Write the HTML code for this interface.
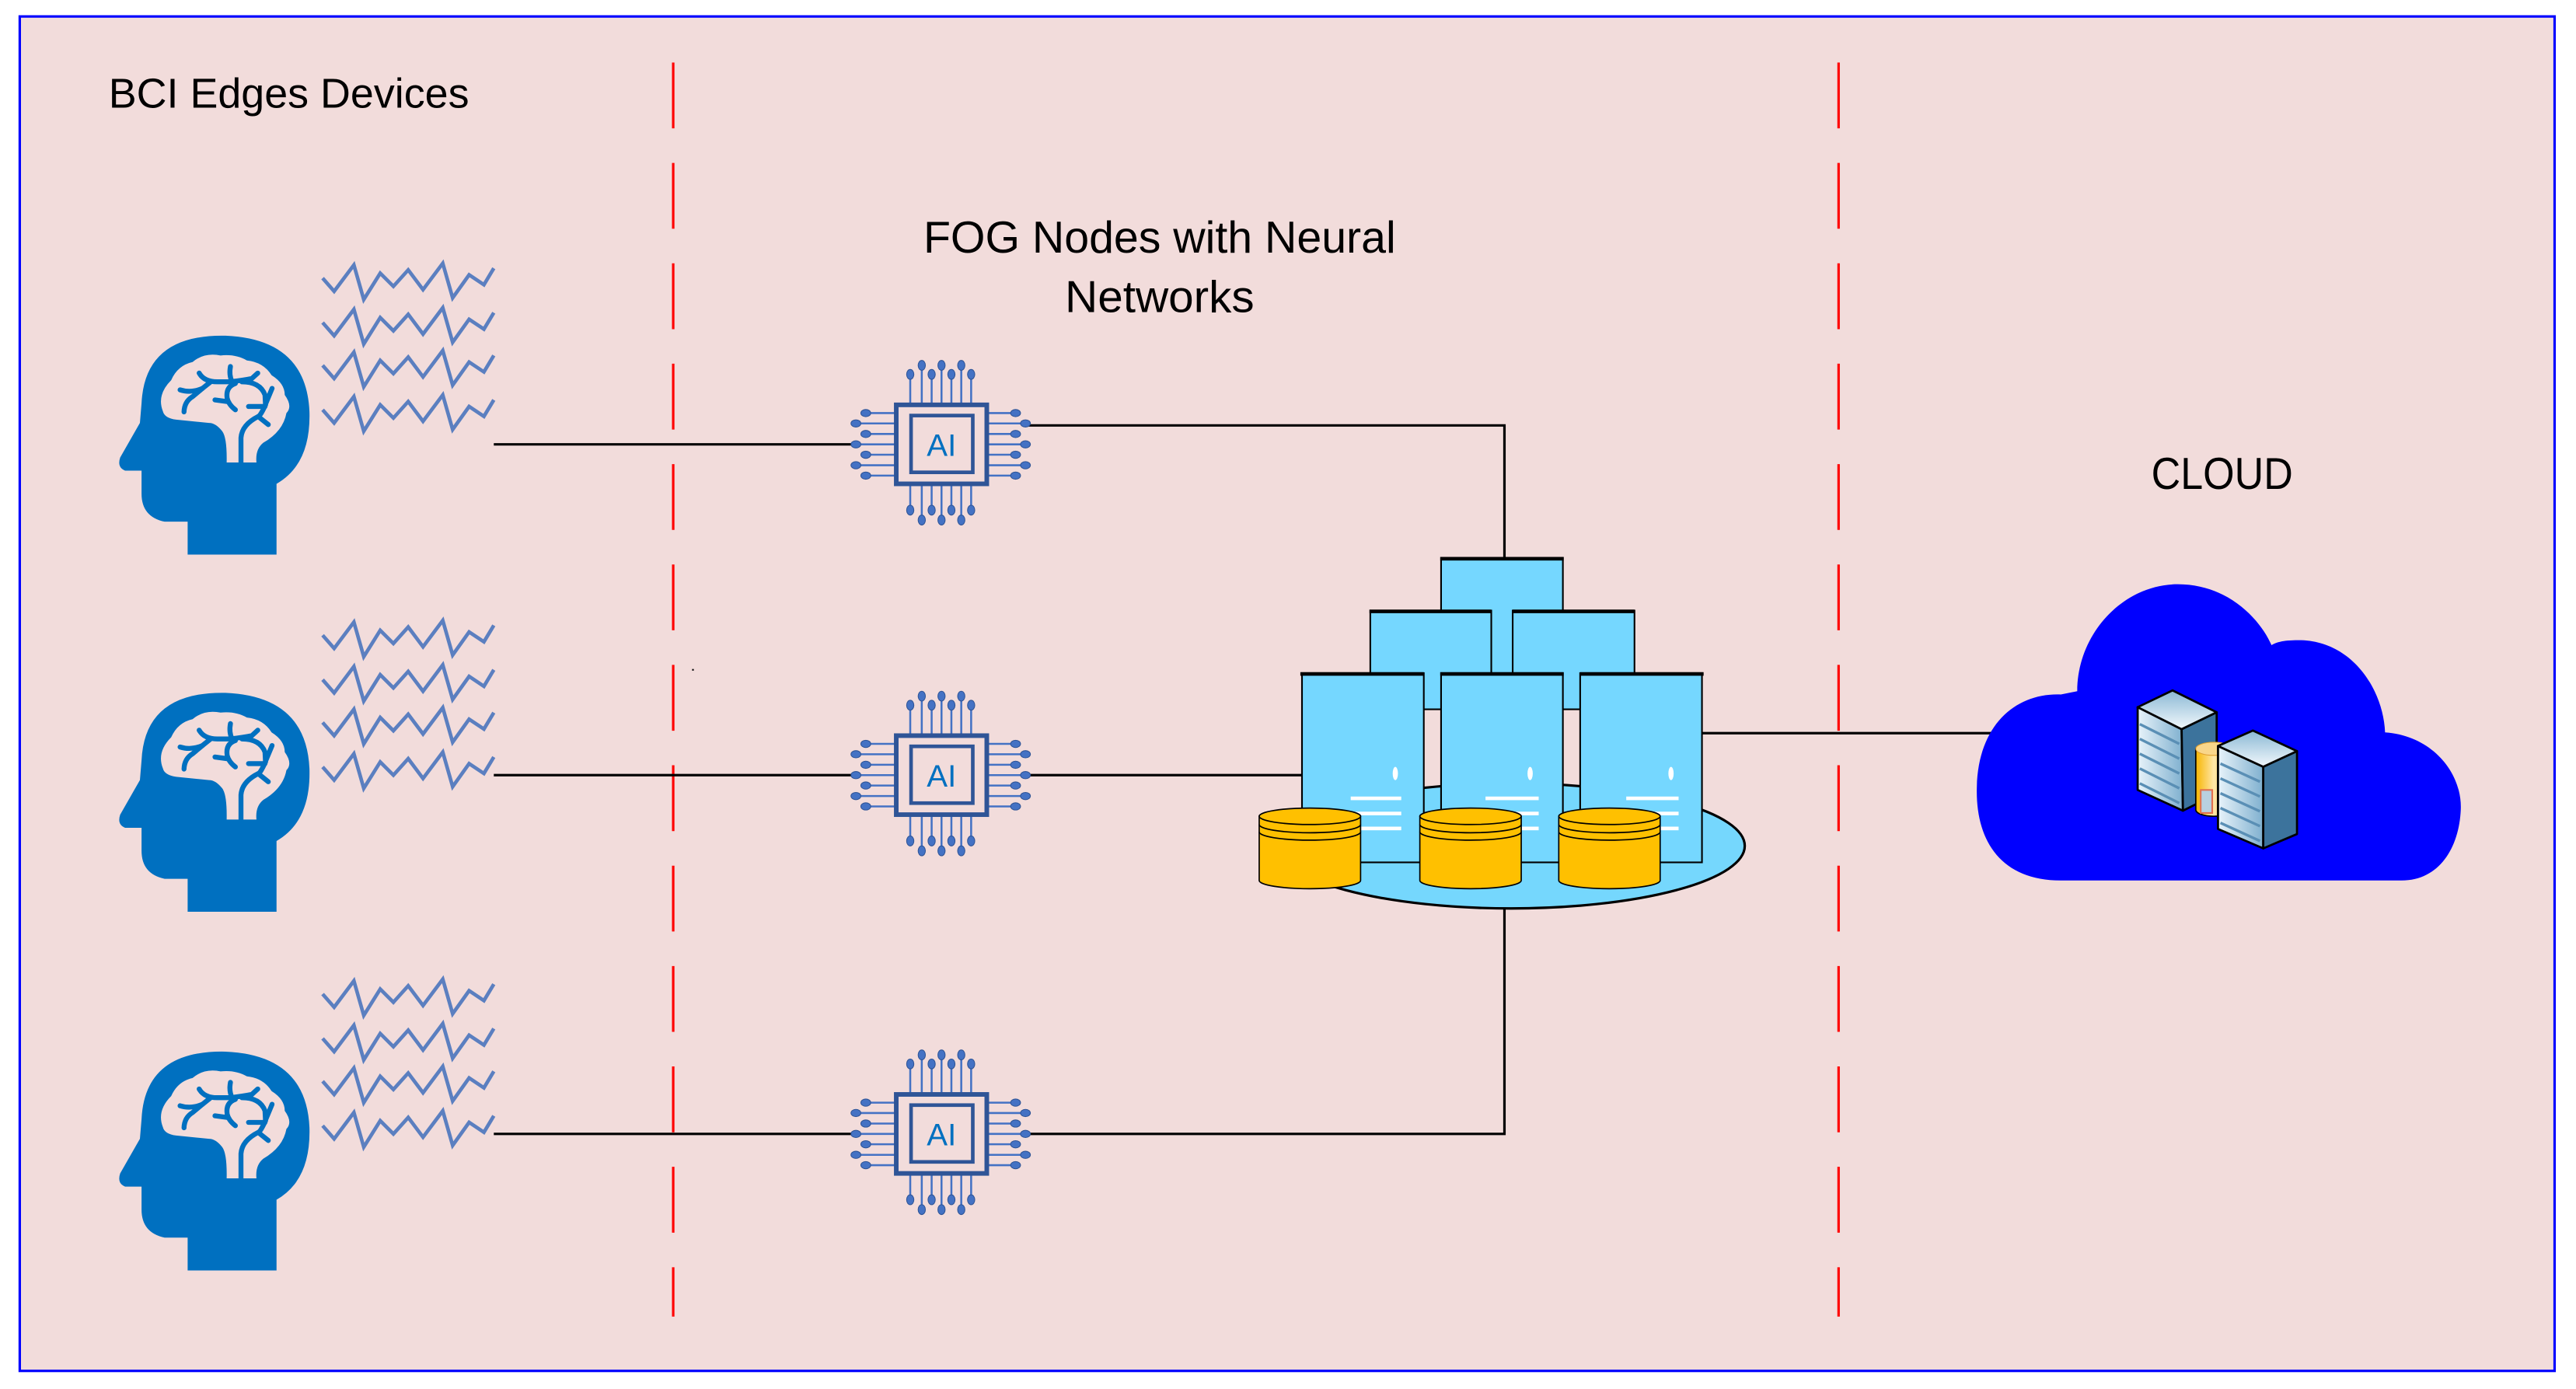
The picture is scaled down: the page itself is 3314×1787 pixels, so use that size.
<!DOCTYPE html>
<html><head><meta charset="utf-8"><style>html,body{margin:0;padding:0;background:#fff}svg{display:block}</style></head>
<body>
<svg width="3314" height="1787" viewBox="0 0 1565 844" preserveAspectRatio="none" xmlns="http://www.w3.org/2000/svg" font-family="'Liberation Sans', sans-serif">
<defs>
  <path id="wave" d="M196,-2 L203,6 L215,-10 L221,11 L231,-5 L239,3 L248,-7 L257,5 L269,-11 L275,10 L285,-4 L294,2 L300,-8" fill="none" stroke="#5b7fc0" stroke-width="2.2" stroke-linejoin="miter"/>
  <g id="waves">
    <use href="#wave" y="171"/><use href="#wave" y="198"/><use href="#wave" y="224"/><use href="#wave" y="251"/>
  </g>
  <g id="head">
    <path d="M114,337 L114,317 L100,317 Q86,314 86,300 L86,286 L76,286 Q71,284 73,278 L85,257 L86,245 Q88,203 137,204 Q186,206 188,250 Q189,282 168,294 L168,337 Z" fill="#0070c0"/>
    <path d="M99,250 Q95,240 104,231 Q108,222 117,220 Q124,214 134,216 Q143,215 150,219 Q160,220 165,228 Q173,233 173,240 Q178,247 174,251 Q172,262 160,269 Q155,273 155.8,281 L137.7,281 Q138,266 135,262 Q131,257 127,257 L107,255 Q100,254 99,250 Z" fill="#f2dcdb"/>
    <g fill="none" stroke="#0070c0" stroke-width="3" stroke-linecap="round">
      <path d="M146.4,282 L146.4,266 Q147,258 157,253"/>
      <path d="M121,226.7 Q124,232 132,232 L140,232 Q148,231 153,230 L156.6,226.7"/>
      <path d="M140,222.7 Q139,228 141,232"/>
      <path d="M109.4,236.9 Q116,239 123,236 L128,232"/>
      <path d="M111.8,250.3 Q112,244 117,241 L123,236"/>
      <path d="M143,233 Q137,235 138,242 Q139,246 143,249"/>
      <path d="M130.6,243 L138,244"/>
      <path d="M147,232 Q158,232 161,240 L161.3,246 Q158,253 157,253"/>
      <path d="M165.3,236 L161.3,245.6"/>
      <path d="M151,247 L161,247"/>
      <path d="M158,254 L163,258"/>
    </g>
  </g>
  <g id="chip">
    <g stroke="#4472c4" stroke-width="1.2">
      <line x1="-46" y1="-19" x2="-28" y2="-19"/><line x1="-52" y1="-12.7" x2="-28" y2="-12.7"/><line x1="-46" y1="-6.3" x2="-28" y2="-6.3"/><line x1="-52" y1="0" x2="-28" y2="0"/><line x1="-46" y1="6.3" x2="-28" y2="6.3"/><line x1="-52" y1="12.7" x2="-28" y2="12.7"/><line x1="-46" y1="19" x2="-28" y2="19"/>
      <line x1="45" y1="-19" x2="28" y2="-19"/><line x1="51" y1="-12.7" x2="28" y2="-12.7"/><line x1="45" y1="-6.3" x2="28" y2="-6.3"/><line x1="51" y1="0" x2="28" y2="0"/><line x1="45" y1="6.3" x2="28" y2="6.3"/><line x1="51" y1="12.7" x2="28" y2="12.7"/><line x1="45" y1="19" x2="28" y2="19"/>
      <line x1="-19" y1="-42.5" x2="-19" y2="-25"/><line x1="-12" y1="-48" x2="-12" y2="-25"/><line x1="-6" y1="-42.5" x2="-6" y2="-25"/><line x1="0" y1="-48" x2="0" y2="-25"/><line x1="6" y1="-42.5" x2="6" y2="-25"/><line x1="12" y1="-48" x2="12" y2="-25"/><line x1="18" y1="-42.5" x2="18" y2="-25"/>
      <line x1="-19" y1="40" x2="-19" y2="25"/><line x1="-12" y1="46" x2="-12" y2="25"/><line x1="-6" y1="40" x2="-6" y2="25"/><line x1="0" y1="46" x2="0" y2="25"/><line x1="6" y1="40" x2="6" y2="25"/><line x1="12" y1="46" x2="12" y2="25"/><line x1="18" y1="40" x2="18" y2="25"/>
    </g>
    <g fill="#4472c4" stroke="#2f5597" stroke-width="0.5">
      <ellipse cx="-46" cy="-19" rx="3" ry="2.2"/><ellipse cx="-52" cy="-12.7" rx="3" ry="2.2"/><ellipse cx="-46" cy="-6.3" rx="3" ry="2.2"/><ellipse cx="-52" cy="0" rx="3" ry="2.2"/><ellipse cx="-46" cy="6.3" rx="3" ry="2.2"/><ellipse cx="-52" cy="12.7" rx="3" ry="2.2"/><ellipse cx="-46" cy="19" rx="3" ry="2.2"/>
      <ellipse cx="45" cy="-19" rx="3" ry="2.2"/><ellipse cx="51" cy="-12.7" rx="3" ry="2.2"/><ellipse cx="45" cy="-6.3" rx="3" ry="2.2"/><ellipse cx="51" cy="0" rx="3" ry="2.2"/><ellipse cx="45" cy="6.3" rx="3" ry="2.2"/><ellipse cx="51" cy="12.7" rx="3" ry="2.2"/><ellipse cx="45" cy="19" rx="3" ry="2.2"/>
      <ellipse cx="-19" cy="-42.5" rx="2.2" ry="3"/><ellipse cx="-12" cy="-48" rx="2.2" ry="3"/><ellipse cx="-6" cy="-42.5" rx="2.2" ry="3"/><ellipse cx="0" cy="-48" rx="2.2" ry="3"/><ellipse cx="6" cy="-42.5" rx="2.2" ry="3"/><ellipse cx="12" cy="-48" rx="2.2" ry="3"/><ellipse cx="18" cy="-42.5" rx="2.2" ry="3"/>
      <ellipse cx="-19" cy="40" rx="2.2" ry="3"/><ellipse cx="-12" cy="46" rx="2.2" ry="3"/><ellipse cx="-6" cy="40" rx="2.2" ry="3"/><ellipse cx="0" cy="46" rx="2.2" ry="3"/><ellipse cx="6" cy="40" rx="2.2" ry="3"/><ellipse cx="12" cy="46" rx="2.2" ry="3"/><ellipse cx="18" cy="40" rx="2.2" ry="3"/>
    </g>
    <rect x="-27.5" y="-24" width="55" height="48" fill="none" stroke="#2f5597" stroke-width="2.8"/>
    <rect x="-18.5" y="-17.5" width="37.5" height="34.5" fill="none" stroke="#2f5597" stroke-width="2.2"/>
  </g>
</defs>

<rect x="12" y="10" width="1540" height="823" fill="#f2dcdb" stroke="#0000ff" stroke-width="1.5"/>

<line x1="409" y1="38" x2="409" y2="800" stroke="#ff0000" stroke-width="1.5" stroke-dasharray="40 21"/>
<line x1="1117" y1="38" x2="1117" y2="800" stroke="#ff0000" stroke-width="1.5" stroke-dasharray="40 21"/>

<text x="66" y="65.3" font-size="25.5" textLength="219" lengthAdjust="spacingAndGlyphs">BCI Edges Devices</text>
<text x="561" y="153.5" font-size="27" textLength="287" lengthAdjust="spacingAndGlyphs">FOG Nodes with Neural</text>
<text x="647" y="189.7" font-size="27" textLength="115" lengthAdjust="spacingAndGlyphs">Networks</text>
<text x="1307" y="297" font-size="27" textLength="86" lengthAdjust="spacingAndGlyphs">CLOUD</text>

<use href="#head"/>
<use href="#head" y="217"/>
<use href="#head" y="435"/>
<use href="#waves"/>
<use href="#waves" y="217"/>
<use href="#waves" y="435"/>

<g stroke="#000" stroke-width="1.5" fill="none">
  <line x1="300" y1="270" x2="520" y2="270"/>
  <line x1="300" y1="471" x2="520" y2="471"/>
  <line x1="300" y1="689" x2="520" y2="689"/>
  <polyline points="624,258.5 914,258.5 914,342"/>
  <line x1="624" y1="471" x2="793" y2="471"/>
  <polyline points="624,689 914,689 914,550"/>
  <line x1="1034" y1="445.5" x2="1212" y2="445.5"/>
</g>
<rect x="420.5" y="406.5" width="1" height="1" fill="#000"/>

<use href="#chip" x="572" y="270"/>
<use href="#chip" x="572" y="471"/>
<use href="#chip" x="572" y="689"/>
<text x="572" y="277" font-size="19" fill="#0070c0" text-anchor="middle">AI</text>
<text x="572" y="478" font-size="19" fill="#0070c0" text-anchor="middle">AI</text>
<text x="572" y="696" font-size="19" fill="#0070c0" text-anchor="middle">AI</text>

<ellipse cx="918" cy="514" rx="142" ry="38" fill="#75d7fd" stroke="#000" stroke-width="1.5"/>
<g fill="#75d7ff" stroke="#000" stroke-width="1">
  <rect x="875.5" y="339" width="74" height="80"/>
  <rect x="832.5" y="371" width="73.5" height="60"/>
  <rect x="919" y="371" width="74" height="60"/>
  <rect x="791" y="409" width="74" height="115"/>
  <rect x="875.5" y="409" width="74" height="115"/>
  <rect x="960" y="409" width="74" height="115"/>
</g>
<g stroke="#000" stroke-width="2.2">
  <line x1="875" y1="339.5" x2="950" y2="339.5"/>
  <line x1="832" y1="371.5" x2="906" y2="371.5"/>
  <line x1="919" y1="371.5" x2="993" y2="371.5"/>
  <line x1="790" y1="409.5" x2="865" y2="409.5"/>
  <line x1="875" y1="409.5" x2="950" y2="409.5"/>
  <line x1="960" y1="409.5" x2="1035" y2="409.5"/>
</g>
<g fill="#fff">
  <ellipse cx="847.7" cy="470" rx="1.6" ry="4"/><ellipse cx="929.6" cy="470" rx="1.6" ry="4"/><ellipse cx="1015.2" cy="470" rx="1.6" ry="4"/>
  <rect x="820.6" y="484" width="30.7" height="2.2"/><rect x="820.6" y="493.2" width="30.7" height="2.2"/><rect x="820.6" y="502.3" width="30.7" height="2.2"/>
  <rect x="902.5" y="484" width="32.3" height="2.2"/><rect x="902.5" y="493.2" width="32.3" height="2.2"/><rect x="902.5" y="502.3" width="32.3" height="2.2"/>
  <rect x="988" y="484" width="31.8" height="2.2"/><rect x="988" y="493.2" width="31.8" height="2.2"/><rect x="988" y="502.3" width="31.8" height="2.2"/>
</g>
<g id="cyl" stroke="#000" stroke-width="0.8" fill="#ffc000">
  <path d="M765,496 L765,535 A30.8,5 0 0 0 826.6,535 L826.6,496 Z"/>
  <ellipse cx="795.8" cy="496" rx="30.8" ry="5"/>
  <path d="M765,501 A30.8,5 0 0 0 826.6,501" fill="none"/>
  <path d="M765,505.5 A30.8,5 0 0 0 826.6,505.5" fill="none"/>
</g>
<use href="#cyl" x="97.6"/>
<use href="#cyl" x="182"/>

<path d="M1252,535 C1215,535 1200,510 1201,478 C1202,440 1225,421 1252,422 L1262,420 C1262,385 1290,355 1323,355 C1355,355 1374,378 1380,392 C1385,389 1392,389 1398,389 C1430,390 1448,420 1449,445 C1478,447 1496,470 1495,492 C1494,515 1482,535 1459,535 Z" fill="#0000ff"/>
<defs>
  <linearGradient id="tg" x1="0" y1="0" x2="0" y2="1"><stop offset="0" stop-color="#8ab8d4"/><stop offset="1" stop-color="#f2f8fc"/></linearGradient>
  <linearGradient id="lf" x1="0" y1="0" x2="1" y2="0"><stop offset="0" stop-color="#e8f3fa"/><stop offset="1" stop-color="#7fb0cf"/></linearGradient>
  <linearGradient id="cg" x1="0" y1="0" x2="1" y2="0"><stop offset="0" stop-color="#f7b500"/><stop offset="0.5" stop-color="#ffe7a8"/><stop offset="1" stop-color="#f7c040"/></linearGradient>
</defs>
<g stroke="#000" stroke-width="1.3" stroke-linejoin="round">
  <polygon points="1298.7,429.7 1325.4,443.1 1326.2,492.6 1298.7,480" fill="url(#lf)"/>
  <polygon points="1325.4,443.1 1346.7,432.8 1346.7,482.4 1326.2,492.6" fill="#3c739c"/>
  <polygon points="1298.7,429.7 1319.9,419.5 1346.7,432.8 1325.4,443.1" fill="url(#tg)"/>
</g>
<g stroke="#5a8fb5" stroke-width="1.6">
  <line x1="1300" y1="440" x2="1324" y2="452"/><line x1="1300" y1="449" x2="1324" y2="461"/><line x1="1300" y1="458" x2="1324" y2="470"/><line x1="1300" y1="467" x2="1324" y2="479"/><line x1="1300" y1="476" x2="1324" y2="488"/>
</g>
<path d="M1334,455 L1334,492 A11,4 0 0 0 1356,492 L1356,455 Z" fill="url(#cg)" stroke="#000" stroke-width="0.8"/>
<ellipse cx="1345" cy="455" rx="11" ry="4" fill="#f9d68a" stroke="#e0a030" stroke-width="0.5"/>
<rect x="1337" y="480" width="7" height="14" fill="#b8d0e0" stroke="#e07050" stroke-width="1"/>
<g stroke="#000" stroke-width="1.3" stroke-linejoin="round">
  <polygon points="1347.5,453.3 1375,465.9 1375,515.5 1347.5,503.7" fill="url(#lf)"/>
  <polygon points="1375,465.9 1395.5,456.4 1395.5,506.8 1375,515.5" fill="#3c739c"/>
  <polygon points="1347.5,453.3 1368.7,443.9 1395.5,456.4 1375,465.9" fill="url(#tg)"/>
</g>
<g stroke="#5a8fb5" stroke-width="1.6">
  <line x1="1349" y1="464" x2="1373" y2="475"/><line x1="1349" y1="473" x2="1373" y2="484"/><line x1="1349" y1="482" x2="1373" y2="493"/><line x1="1349" y1="491" x2="1373" y2="502"/><line x1="1349" y1="500" x2="1373" y2="511"/>
</g>
</svg>
</body></html>
